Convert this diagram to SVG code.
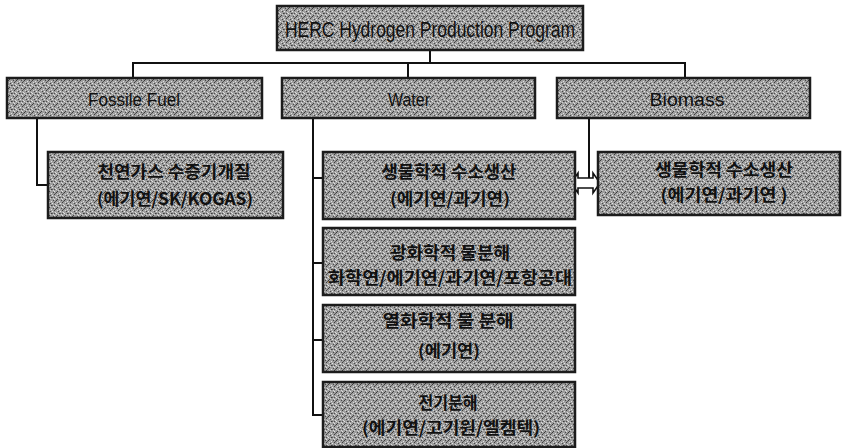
<svg xmlns="http://www.w3.org/2000/svg" width="844" height="448" viewBox="0 0 844 448">
<defs>
<pattern id="dither" width="8" height="8" patternUnits="userSpaceOnUse">
<rect width="8" height="8" fill="#9e9e9e"/>
<rect x="0" y="0" width="1" height="1" fill="#3a3a3a"/>
<rect x="3" y="1" width="1" height="1" fill="#e0e0e0"/>
<rect x="5" y="0" width="1" height="1" fill="#4a4a4a"/>
<rect x="1" y="2" width="1" height="1" fill="#d8d8d8"/>
<rect x="6" y="2" width="1" height="1" fill="#3c3c3c"/>
<rect x="2" y="3" width="1" height="1" fill="#454545"/>
<rect x="4" y="3" width="1" height="1" fill="#e6e6e6"/>
<rect x="7" y="4" width="1" height="1" fill="#dcdcdc"/>
<rect x="0" y="5" width="1" height="1" fill="#e4e4e4"/>
<rect x="3" y="5" width="1" height="1" fill="#3c3c3c"/>
<rect x="5" y="6" width="1" height="1" fill="#d6d6d6"/>
<rect x="1" y="7" width="1" height="1" fill="#404040"/>
<rect x="6" y="7" width="1" height="1" fill="#e2e2e2"/>
<rect x="4" y="5" width="1" height="1" fill="#606060"/>
<rect x="2" y="6" width="1" height="1" fill="#cfcfcf"/>
<rect x="7" y="1" width="1" height="1" fill="#555"/>
<rect x="6" y="5" width="1" height="1" fill="#4e4e4e"/>
</pattern>
</defs>
<style>
.box{fill:url(#dither);stroke:#1c1c1c;stroke-width:2.5}
.t{font-family:"Liberation Sans","Noto Sans CJK KR",sans-serif;fill:#111;text-anchor:middle}
.k{font-family:"Noto Sans CJK KR","Liberation Sans",sans-serif;font-size:17px;font-weight:bold;fill:#111;text-anchor:middle}
.c{fill:none;stroke:#111;stroke-width:2}
.arr{fill:#fff;stroke:#111;stroke-width:1.6}
</style>
<rect width="844" height="448" fill="#fff"/>
<g id="connectors">
<polyline class="c" points="430,50 430,63"/>
<polyline class="c" points="133,78 133,63 685,63 685,78"/>
<polyline class="c" points="408,63 408,78"/>
<polyline class="c" points="37,118 37,185 48,185"/>
<polyline class="c" points="313,118 313,415 323,415"/>
<polyline class="c" points="313,178 323,178"/>
<polyline class="c" points="313,263 323,263"/>
<polyline class="c" points="313,340 323,340"/>
<polyline class="c" points="589,118 589,178"/>
<polygon class="arr" points="571,183 578,173 578,178 593,178 593,173 600,183 593,193 593,188 578,188 578,193"/>
</g>
<g id="root">
<rect class="box" x="277" y="6" width="306" height="44"/>
<text class="t" x="430" y="37" font-size="22" textLength="290" lengthAdjust="spacingAndGlyphs">HERC Hydrogen Production Program</text>
</g>
<g id="fossil">
<rect class="box" x="7" y="78" width="255" height="40"/>
<text class="t" x="134" y="106" font-size="18" textLength="92" lengthAdjust="spacingAndGlyphs">Fossile Fuel</text>
</g>
<g id="water">
<rect class="box" x="282" y="78" width="253" height="40"/>
<text class="t" x="409" y="106" font-size="18" textLength="42" lengthAdjust="spacingAndGlyphs">Water</text>
</g>
<g id="biomass">
<rect class="box" x="557" y="78" width="253" height="40"/>
<text class="t" x="687" y="106" font-size="18" textLength="75" lengthAdjust="spacingAndGlyphs">Biomass</text>
</g>
<g id="fossil-reforming">
<rect class="box" x="48" y="152" width="235" height="66"/>
<text class="k" x="174" y="178" textLength="153" lengthAdjust="spacingAndGlyphs">천연가스 수증기개질</text>
<text class="k" x="175" y="205" textLength="156" lengthAdjust="spacingAndGlyphs">(에기연/SK/KOGAS)</text>
</g>
<g id="water-bio">
<rect class="box" x="323" y="152" width="252" height="67"/>
<text class="k" x="449" y="178" textLength="135" lengthAdjust="spacingAndGlyphs">생물학적 수소생산</text>
<text class="k" x="450" y="205" textLength="120" lengthAdjust="spacingAndGlyphs">(에기연/과기연)</text>
</g>
<g id="water-photo">
<rect class="box" x="323" y="228" width="252" height="67"/>
<text class="k" x="450" y="259" textLength="120" lengthAdjust="spacingAndGlyphs">광화학적 물분해</text>
<text class="k" x="450" y="284" textLength="244" lengthAdjust="spacingAndGlyphs">화학연/에기연/과기연/포항공대</text>
</g>
<g id="water-thermo">
<rect class="box" x="323" y="305" width="252" height="67"/>
<text class="k" x="448" y="327" textLength="131" lengthAdjust="spacingAndGlyphs">열화학적 물 분해</text>
<text class="k" x="449" y="357" textLength="62" lengthAdjust="spacingAndGlyphs">(에기연)</text>
</g>
<g id="water-electro">
<rect class="box" x="323" y="382" width="252" height="65"/>
<text class="k" x="448" y="409" textLength="59" lengthAdjust="spacingAndGlyphs">전기분해</text>
<text class="k" x="451" y="434" textLength="178" lengthAdjust="spacingAndGlyphs">(에기연/고기원/엘켐텍)</text>
</g>
<g id="biomass-bio">
<rect class="box" x="598" y="152" width="242" height="63"/>
<text class="k" x="724" y="176" textLength="138" lengthAdjust="spacingAndGlyphs">생물학적 수소생산</text>
<text class="k" x="724" y="201" textLength="127" lengthAdjust="spacingAndGlyphs">(에기연/과기연 )</text>
</g>
</svg>
